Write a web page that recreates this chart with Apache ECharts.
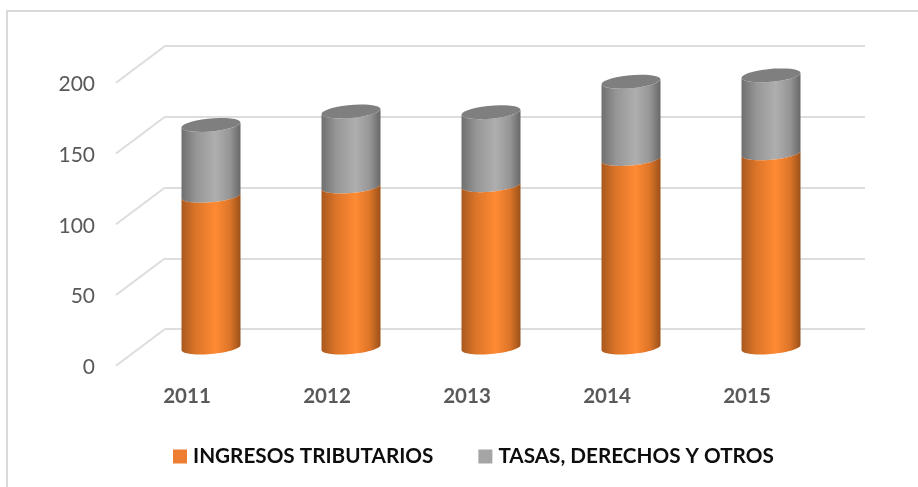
<!DOCTYPE html>
<html>
<head>
<meta charset="utf-8">
<script src="https://cdn.jsdelivr.net/npm/echarts@6/dist/echarts.min.js"></script>
<style>
  html, body { margin: 0; padding: 0; background: #fff; }
  #chart { width: 918px; height: 487px; }
</style>
</head>
<body>
<div id="chart"></div>
<script>
const years = ['2011', '2012', '2013', '2014', '2015']
const ingresos = [107, 113.5, 114.5, 133, 137]
const tasas = [50, 53, 51.5, 54.5, 55]
const yTicks = [0, 50, 100, 150, 200]

const nameIngresos = 'INGRESOS TRIBUTARIOS'
const nameTasas = 'TASAS, DERECHOS Y OTROS'

const mycharts = echarts.init(document.getElementById('chart'))

// horizontal shading of the cylinders
const shade = (c0, c1, c2, c3) => new echarts.graphic.LinearGradient(0, 0, 1, 0, [
  { offset: 0, color: c0 },
  { offset: 0.25, color: c1 },
  { offset: 0.58, color: c2 },
  { offset: 0.82, color: c1 },
  { offset: 1, color: c3 },
])
const orangeShade = shade('#A9591F', '#DC7529', '#FF8A33', '#9C5119')
const grayShade = shade('#6F6F6F', '#969696', '#AEAEAE', '#686868')

// sheared ellipse, from angle a to angle b
function arc(cx, cy, from, to) {
  const pts = []
  for (let i = 0; i <= 30; i++) {
    const t = from + (to - from) * i / 30
    pts.push([cx + 29.5 * Math.cos(t), cy + 6.5 * Math.sin(t) - 2.5 * Math.cos(t)])
  }
  return pts
}

function cylinder(fill, withCap) {
  return function (params, api) {
    const bottom = api.coord([api.value(0), api.value(1)])
    const top = api.coord([api.value(0), api.value(2)])
    // lower half of the bottom ellipse, then lower half of the top one, backwards
    const body = arc(bottom[0], bottom[1], 0, Math.PI).concat(arc(top[0], top[1], Math.PI, 0))
    const children = [{ type: 'polygon', shape: { points: body }, style: { fill: fill } }]
    if (withCap) {
      children.push({
        type: 'polygon',
        shape: { points: arc(top[0], top[1], 0, Math.PI * 2) },
        style: { fill: '#7F7F7F' },
      })
    }
    return { type: 'group', children: children }
  }
}

// side wall lines going from the back wall to the front
function sideLine(params, api) {
  const p = api.coord([0, api.value(0)])
  const x = params.coordSys.x
  return {
    type: 'line',
    shape: { x1: x, y1: p[1], x2: x - 49, y2: p[1] + 36.7 },
    style: { stroke: '#DDDDDD', lineWidth: 2 },
  }
}

const hiddenX = { type: 'category', data: years, show: false }

mycharts.setOption({
  animation: false,
  backgroundColor: '#fff',
  graphic: [
    {
      type: 'polyline',
      shape: { points: [[7, 487], [7, 11], [918, 11]] },
      style: { stroke: '#D9D9D9', lineWidth: 2, fill: null },
    },
  ],
  legend: {
    left: 168,
    top: 441,
    itemWidth: 14,
    itemHeight: 14,
    itemGap: 45,
    icon: 'rect',
    textStyle: {
      fontFamily: 'Lato',
      fontWeight: 'bold',
      fontSize: 20.7,
      color: '#0D0D0D',
      padding: [0, 0, 0, 1],
    },
    data: [
      { name: nameIngresos, itemStyle: { color: '#ED7D31' } },
      { name: nameTasas, itemStyle: { color: '#A5A5A5' } },
    ],
  },
  grid: [
    { left: 165, top: 46, width: 700, height: 283 }, // back wall
    { left: 141, top: 64, width: 700, height: 283.5 }, // cylinders
    { left: 117, top: 84.7, width: 700, height: 282.3 }, // front edge, labels
  ],
  xAxis: [
    { ...hiddenX, gridIndex: 0 },
    { ...hiddenX, gridIndex: 1 },
    {
      type: 'category',
      gridIndex: 2,
      data: years,
      axisLine: { show: false },
      axisTick: { show: false },
      axisLabel: {
        margin: 19,
        fontFamily: 'Lato',
        fontWeight: 'bold',
        fontSize: 20.5,
        color: '#595959',
      },
    },
  ],
  yAxis: [
    {
      type: 'value',
      gridIndex: 0,
      min: 0,
      max: 200,
      interval: 50,
      axisLabel: { show: false },
      axisLine: { show: false },
      axisTick: { show: false },
      splitLine: { show: true, lineStyle: { color: '#DDDDDD', width: 2 } },
    },
    { type: 'value', gridIndex: 1, min: 0, max: 200, interval: 50, show: false },
    {
      type: 'value',
      gridIndex: 2,
      min: 0,
      max: 200,
      interval: 50,
      axisLine: { show: false },
      axisTick: { show: false },
      splitLine: { show: false },
      axisLabel: {
        margin: 22,
        fontFamily: 'Lato',
        fontSize: 21,
        color: '#595959',
      },
    },
  ],
  series: [
    {
      type: 'custom',
      xAxisIndex: 0,
      yAxisIndex: 0,
      silent: true,
      z: 1,
      data: yTicks.map((v) => [v]),
      encode: { y: 0 },
      renderItem: sideLine,
    },
    {
      name: nameTasas,
      type: 'custom',
      xAxisIndex: 1,
      yAxisIndex: 1,
      z: 3,
      itemStyle: { color: '#A5A5A5' },
      data: years.map((y, i) => [i, ingresos[i], ingresos[i] + tasas[i]]),
      renderItem: cylinder(grayShade, true),
    },
    {
      name: nameIngresos,
      type: 'custom',
      xAxisIndex: 1,
      yAxisIndex: 1,
      z: 4,
      itemStyle: { color: '#ED7D31' },
      data: years.map((y, i) => [i, 0, ingresos[i]]),
      renderItem: cylinder(orangeShade, false),
    },
  ],
})
</script>
</body>
</html>
